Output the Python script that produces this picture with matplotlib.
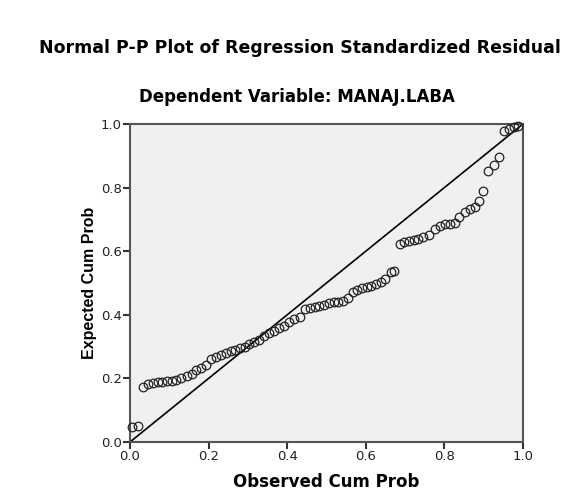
import matplotlib.pyplot as plt

plt.rcParams['font.family'] = ['DejaVu Sans']

# observed cumulative probability
observed = [0.006, 0.020, 0.032, 0.046, 0.058, 0.070, 0.082, 0.094, 0.106, 0.118,
            0.130, 0.144, 0.158, 0.168, 0.180, 0.193, 0.207, 0.220, 0.232, 0.244,
            0.256, 0.268, 0.280, 0.292, 0.304, 0.316, 0.328, 0.342, 0.354, 0.366,
            0.380, 0.392, 0.404, 0.418, 0.432, 0.446, 0.458, 0.470, 0.482, 0.494,
            0.506, 0.518, 0.530, 0.542, 0.555, 0.567, 0.578, 0.590, 0.602, 0.614,
            0.626, 0.638, 0.650, 0.663, 0.673, 0.686, 0.698, 0.710, 0.722, 0.734,
            0.746, 0.760, 0.776, 0.790, 0.802, 0.814, 0.826, 0.838, 0.852, 0.866,
            0.878, 0.889, 0.899, 0.912, 0.925, 0.940, 0.952, 0.964, 0.976, 0.988]
# expected cumulative probability
expected = [0.046, 0.050, 0.172, 0.181, 0.186, 0.189, 0.190, 0.191, 0.192, 0.194,
            0.200, 0.208, 0.214, 0.226, 0.234, 0.242, 0.262, 0.266, 0.272, 0.280,
            0.285, 0.290, 0.295, 0.300, 0.308, 0.314, 0.320, 0.332, 0.342, 0.348,
            0.357, 0.366, 0.378, 0.388, 0.393, 0.418, 0.422, 0.425, 0.428, 0.432,
            0.436, 0.440, 0.441, 0.443, 0.452, 0.472, 0.478, 0.483, 0.486, 0.490,
            0.496, 0.502, 0.514, 0.534, 0.538, 0.622, 0.628, 0.632, 0.634, 0.638,
            0.644, 0.650, 0.670, 0.680, 0.684, 0.686, 0.690, 0.706, 0.724, 0.732,
            0.740, 0.758, 0.790, 0.852, 0.871, 0.897, 0.978, 0.984, 0.989, 0.995]

ticks = [0.0, 0.2, 0.4, 0.6, 0.8, 1.0]

fig = plt.figure(figsize=(5.71, 4.91), dpi=100)
ax = fig.add_axes([0.2277, 0.0998, 0.6882, 0.6477])
ax.set_facecolor('#f0f0f0')

ax.plot([0, 1], [0, 1], color='black', lw=1.2, zorder=2)
ax.plot(observed, expected, 'o', mfc='none', mec='#222222', ms=6.2, mew=0.9,
        zorder=3, clip_on=False)

ax.set_xlim(0, 1)
ax.set_ylim(0, 1)
ax.set_xticks(ticks)
ax.set_yticks(ticks)
ax.set_xticklabels(['%.1f' % t for t in ticks])
ax.set_yticklabels(['%.1f' % t for t in ticks])
ax.tick_params(direction='out', length=5, width=1.5, color='#333333',
               labelsize=9.5, pad=1, labelcolor='#222222')
for s in ax.spines.values():
    s.set_color('#555555')
    s.set_linewidth(1.5)

ax.set_xlabel('Observed Cum Prob', fontsize=12, fontweight='bold', labelpad=7)
ax.set_ylabel('Expected Cum Prob', fontsize=11.5, fontweight='bold', labelpad=3,
              family='Liberation Sans')
fig.text(0.52, 0.802, 'Dependent Variable: MANAJ.LABA',
         ha='center', va='center', fontsize=12, fontweight='bold')
fig.text(0.525, 0.903, 'Normal P-P Plot of Regression Standardized Residual',
         ha='center', va='center', fontsize=12.5, fontweight='bold')

fig.savefig('out.png', dpi=100)
